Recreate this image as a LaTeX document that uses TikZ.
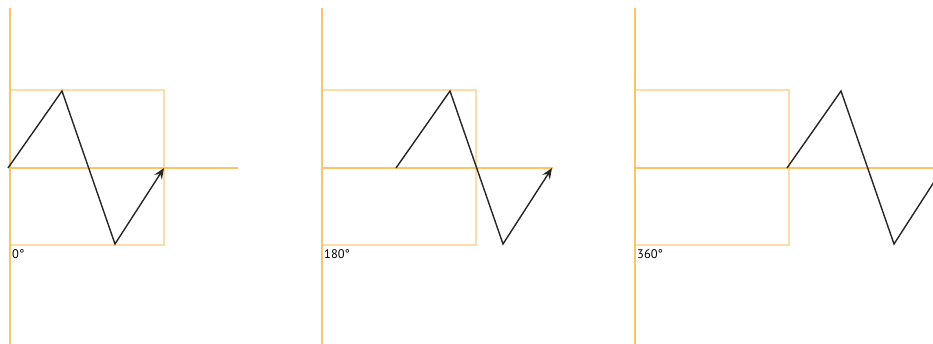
\documentclass[tikz,border=0pt]{standalone}
\usepackage{fontspec}
\setmainfont{PT Sans}
\usetikzlibrary{arrows.meta,positioning}
\definecolor{axisorange}{HTML}{FFC266}
\definecolor{boxorange}{HTML}{FFDBA8}

\begin{document}
\begin{tikzpicture}[
        x=1pt, y=-1pt,
        axis line/.style={draw=axisorange, line width=1.3pt},
        phase box/.style={draw=boxorange, line width=1.8pt},
        wave/.style={draw=black!85, line width=1.4pt, line join=miter},
        wave tip/.style={-{Stealth[length=11pt, width=9pt, inset=4pt]}},
        phase label/.style={font=\fontsize{12.5}{13}\selectfont, inner sep=0pt, anchor=north west},
    ]
    \useasboundingbox (0,0) rectangle (933,344);
    \clip (0,0) rectangle (933,344);
    \foreach \ox/\sh/\len/\deg [count=\i] in {10/0/228/0, 322/76/231/180, 635/154/320/360} {
        % reference box and axes
        \draw[phase box] (\ox,90) rectangle (\ox+154,245);
        \coordinate (top\i) at (\ox,8);
        \coordinate (bot\i) at (\ox,344);
        \coordinate (o\i) at (\ox,168);
        \coordinate (xend\i) at (\ox+\len,168);
        \draw[axis line] (top\i) -- (bot\i);
        \draw[axis line] (o\i) -- (xend\i);
        % shifted wave
        \coordinate (ws\i) at (\ox+\sh-2,168);
        \coordinate (wp\i) at (\ox+\sh+52,91);
        \coordinate (wt\i) at (\ox+\sh+105,244);
        \coordinate (we\i) at (\ox+\sh+154,168);
        \draw[wave, wave tip] (ws\i) -- (wp\i) -- (wt\i) -- (we\i);
        \node[phase label] (lbl\i) at (\ox+2,249) {\deg°};
    }
\end{tikzpicture}
\end{document}
